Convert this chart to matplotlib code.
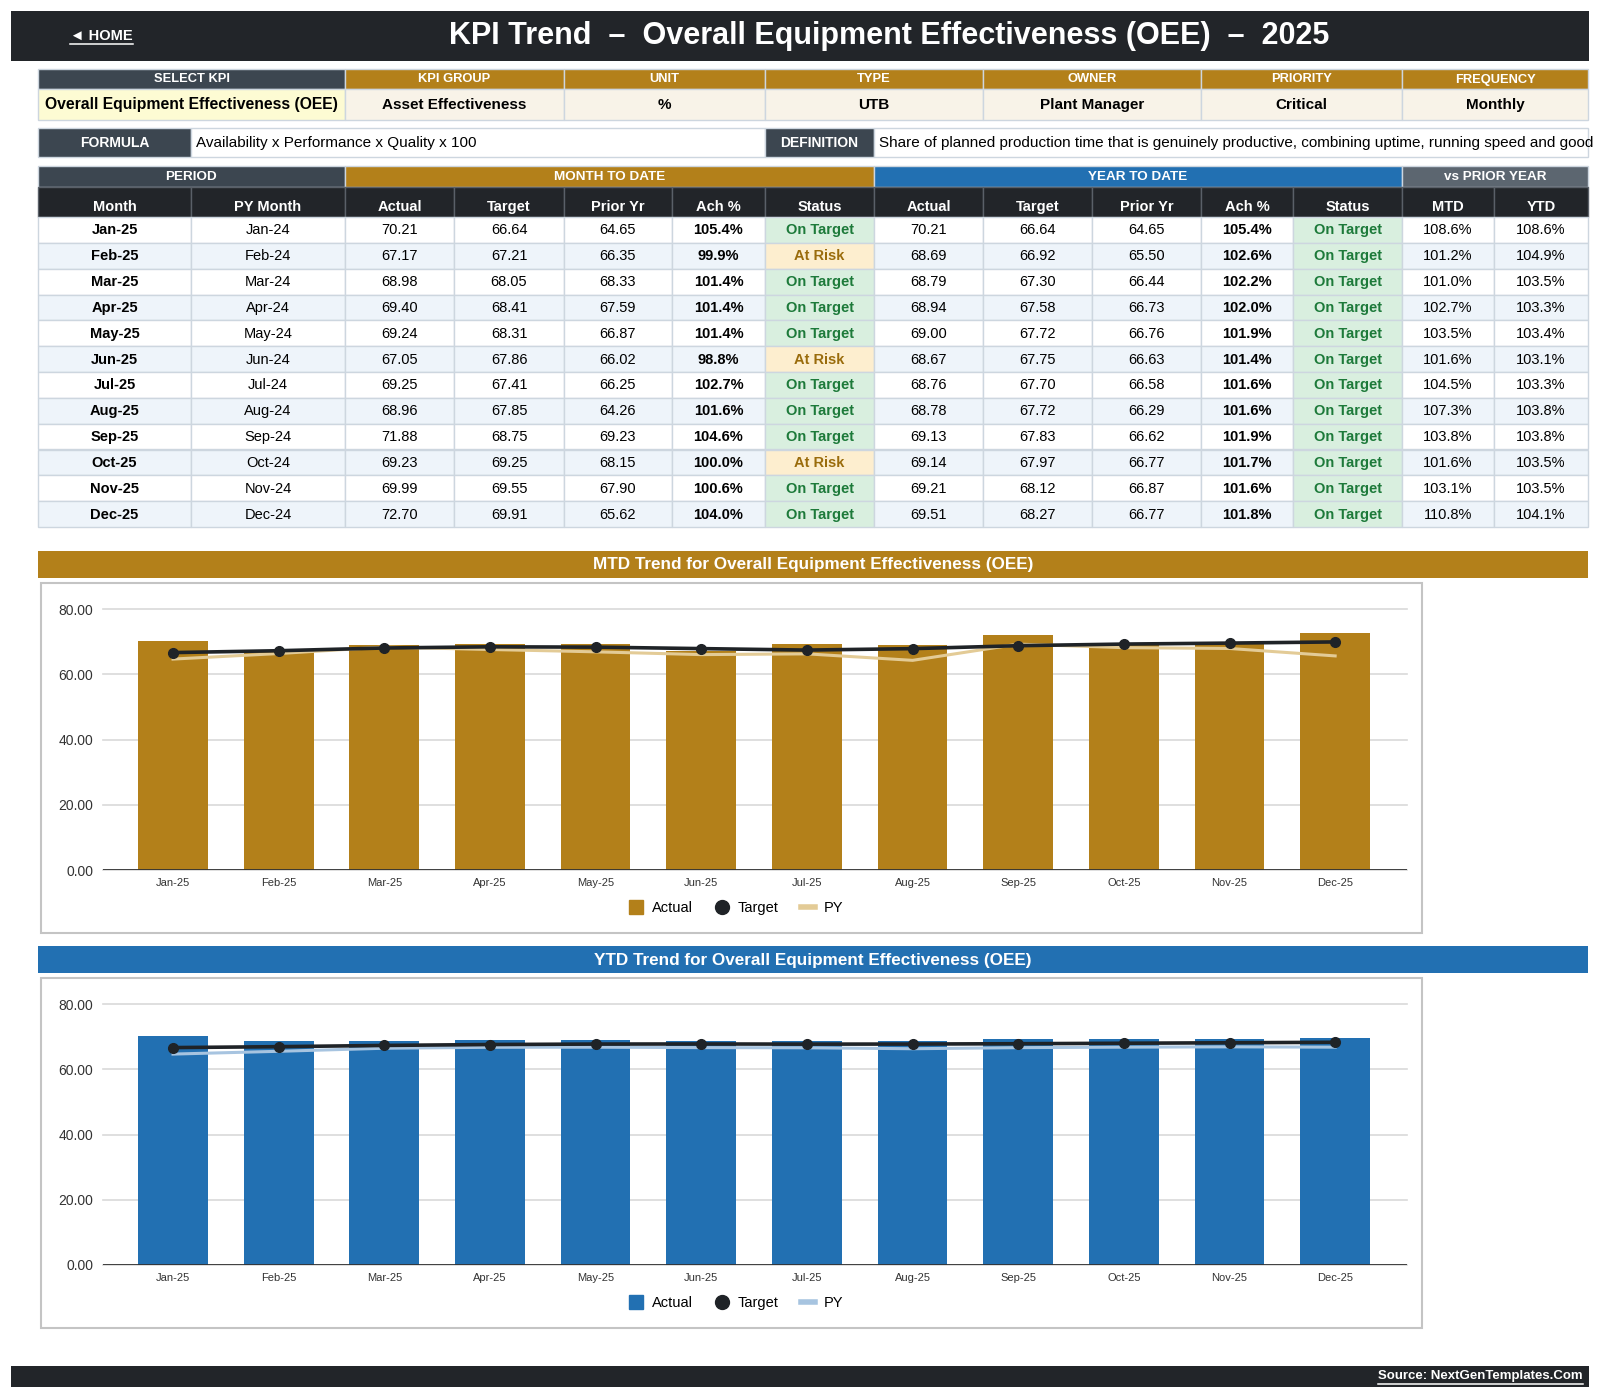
import matplotlib
matplotlib.use("Agg")
import matplotlib.pyplot as plt
from matplotlib.patches import Rectangle
from matplotlib.lines import Line2D

plt.rcParams['font.family'] = ['Liberation Sans', 'DejaVu Sans']

# ---- data read from the sheet ----
months = ['Jan-25', 'Feb-25', 'Mar-25', 'Apr-25', 'May-25', 'Jun-25',
          'Jul-25', 'Aug-25', 'Sep-25', 'Oct-25', 'Nov-25', 'Dec-25']
py_months = ['Jan-24', 'Feb-24', 'Mar-24', 'Apr-24', 'May-24', 'Jun-24',
             'Jul-24', 'Aug-24', 'Sep-24', 'Oct-24', 'Nov-24', 'Dec-24']

mtd_actual = [70.21, 67.17, 68.98, 69.40, 69.24, 67.05, 69.25, 68.96, 71.88, 69.23, 69.99, 72.70]
mtd_target = [66.64, 67.21, 68.05, 68.41, 68.31, 67.86, 67.41, 67.85, 68.75, 69.25, 69.55, 69.91]
mtd_prior = [64.65, 66.35, 68.33, 67.59, 66.87, 66.02, 66.25, 64.26, 69.23, 68.15, 67.90, 65.62]
mtd_ach = ['105.4%', '99.9%', '101.4%', '101.4%', '101.4%', '98.8%',
           '102.7%', '101.6%', '104.6%', '100.0%', '100.6%', '104.0%']
mtd_status = ['On Target', 'At Risk', 'On Target', 'On Target', 'On Target', 'At Risk',
              'On Target', 'On Target', 'On Target', 'At Risk', 'On Target', 'On Target']

ytd_actual = [70.21, 68.69, 68.79, 68.94, 69.00, 68.67, 68.76, 68.78, 69.13, 69.14, 69.21, 69.51]
ytd_target = [66.64, 66.92, 67.30, 67.58, 67.72, 67.75, 67.70, 67.72, 67.83, 67.97, 68.12, 68.27]
ytd_prior = [64.65, 65.50, 66.44, 66.73, 66.76, 66.63, 66.58, 66.29, 66.62, 66.77, 66.87, 66.77]
ytd_ach = ['105.4%', '102.6%', '102.2%', '102.0%', '101.9%', '101.4%',
           '101.6%', '101.6%', '101.9%', '101.7%', '101.6%', '101.8%']
ytd_status = ['On Target'] * 12

vs_py_mtd = ['108.6%', '101.2%', '101.0%', '102.7%', '103.5%', '101.6%',
             '104.5%', '107.3%', '103.8%', '101.6%', '103.1%', '110.8%']
vs_py_ytd = ['108.6%', '104.9%', '103.5%', '103.3%', '103.4%', '103.1%',
             '103.3%', '103.8%', '103.8%', '103.5%', '103.5%', '104.1%']

info_heads = ['SELECT KPI', 'KPI GROUP', 'UNIT', 'TYPE', 'OWNER', 'PRIORITY', 'FREQUENCY']
info_vals = ['Overall Equipment Effectiveness (OEE)', 'Asset Effectiveness', '%', 'UTB',
             'Plant Manager', 'Critical', 'Monthly']
formula = 'Availability x Performance x Quality x 100'
# the sheet cell only shows this much of the definition
definition = ('Share of planned production time that is genuinely productive, combining uptime, '
              'running speed and good')

# ---- colours ----
DARK = '#222529'
SLATE = '#3c4650'
GOLD = '#b3801a'
BLUE = '#2270b2'
GREY = '#5c6670'
EDGE = '#cdd6df'

fig = plt.figure(figsize=(16, 13.99), dpi=100)
bg = fig.add_axes([0, 0, 1, 1])
bg.set_xlim(0, 1600)
bg.set_ylim(1399, 0)
bg.axis('off')


def cell(x0, x1, y0, y1, fc, txt='', color='black', size=10.5, weight='normal',
         ha='center', ec=EDGE, dy=0.5):
    r = Rectangle((x0, y0), x1 - x0, y1 - y0, facecolor=fc, edgecolor=ec, lw=1, zorder=1)
    bg.add_patch(r)
    if txt:
        tx = (x0 + x1) / 2 if ha == 'center' else x0 + 5
        return bg.text(tx, (y0 + y1) / 2 + dy, txt, ha=ha, va='center', color=color,
                       fontsize=size, fontweight=weight, zorder=2)


def underline(t, color='white'):
    fig.canvas.draw()
    bb = t.get_window_extent()
    inv = bg.transData.inverted()
    (x0, y0), (x1, y1) = inv.transform([(bb.x0, bb.y0), (bb.x1, bb.y1)])
    bg.plot([x0, x1], [y0 + 1, y0 + 1], color=color, lw=1.1, zorder=3)


# ---- top bar ----
bg.add_patch(Rectangle((11, 11), 1578, 50, facecolor=DARK, zorder=1))
home = bg.text(70, 36, '\u25c4 HOME', color='white', fontsize=10.5, fontweight='bold',
               ha='left', va='center', zorder=2)
bg.text(889, 36, 'KPI Trend  \u2013  Overall Equipment Effectiveness (OEE)  \u2013  2025',
        color='white', fontsize=22, fontweight='bold', ha='center', va='center', zorder=2)

# ---- KPI info block ----
info_x = [38, 345, 564, 765, 983, 1201, 1402, 1588]
for i in range(7):
    hc = SLATE if i == 0 else GOLD
    cell(info_x[i], info_x[i + 1], 69, 89, hc, info_heads[i], 'white', 9.3, 'bold')
    vc = '#fdfbd3' if i == 0 else '#f8f3e8'
    vs = 11.3 if i == 0 else 11
    cell(info_x[i], info_x[i + 1], 89, 120, vc, info_vals[i], 'black', vs, 'bold')

cell(38, 191, 128, 157, SLATE, 'FORMULA', 'white', 10, 'bold')
cell(191, 765, 128, 157, 'white', formula, 'black', 11, ha='left')
cell(765, 874, 128, 157, SLATE, 'DEFINITION', 'white', 10, 'bold')
cell(874, 1588, 128, 157, 'white', definition, 'black', 11, ha='left')

# ---- main table ----
col_x = [38, 191, 345, 454, 564, 672, 765, 874, 983, 1092, 1201, 1293, 1402, 1494, 1588]
col_heads = ['Month', 'PY Month', 'Actual', 'Target', 'Prior Yr', 'Ach %', 'Status',
             'Actual', 'Target', 'Prior Yr', 'Ach %', 'Status', 'MTD', 'YTD']
groups = [('PERIOD', 0, 2, SLATE), ('MONTH TO DATE', 2, 7, GOLD),
          ('YEAR TO DATE', 7, 12, BLUE), ('vs PRIOR YEAR', 12, 14, GREY)]
for name, a, b, c in groups:
    cell(col_x[a], col_x[b], 166, 187, c, name, 'white', 9.7, 'bold')
for j, h in enumerate(col_heads):
    cell(col_x[j], col_x[j + 1], 187, 217, DARK, h, 'white', 10.5, 'bold', ec='#5a6068', dy=5)

row_h = (527 - 217) / 12
for i in range(12):
    y0 = 217 + i * row_h
    y1 = y0 + row_h
    rc = 'white' if i % 2 == 0 else '#eef4fa'
    vals = [months[i], py_months[i], f'{mtd_actual[i]:.2f}', f'{mtd_target[i]:.2f}',
            f'{mtd_prior[i]:.2f}', mtd_ach[i], mtd_status[i],
            f'{ytd_actual[i]:.2f}', f'{ytd_target[i]:.2f}', f'{ytd_prior[i]:.2f}',
            ytd_ach[i], ytd_status[i], vs_py_mtd[i], vs_py_ytd[i]]
    for j, v in enumerate(vals):
        fc, color, weight = rc, 'black', 'normal'
        if j in (0, 5, 10):
            weight = 'bold'
        if j in (6, 11):
            weight = 'bold'
            if v == 'On Target':
                fc, color = '#d9efdf', '#1d7a3a'
            else:
                fc, color = '#fdeecf', '#9a6c0c'
        cell(col_x[j], col_x[j + 1], y0, y1, fc, v, color, 10.5, weight)


# ---- charts ----
def trend_chart(top, actual, target, prior, bar_color, py_color, title):
    # banner + frame
    bg.add_patch(Rectangle((38, top), 1550, 27, facecolor=bar_color, zorder=1))
    bg.text(813, top + 14, title, color='white', fontsize=12.3, fontweight='bold',
            ha='center', va='center', zorder=2)
    bg.add_patch(Rectangle((41, top + 32), 1381, 350, facecolor='white',
                           edgecolor='#c4c4c4', lw=1.5, zorder=1))

    y80 = top + 58
    y0 = top + 319
    ax = fig.add_axes([103 / 1600, 1 - y0 / 1399, 1304 / 1600, (y0 - y80) / 1399])
    ax.patch.set_visible(False)
    x = list(range(len(months)))
    ax.bar(x, actual, width=0.66, color=bar_color, zorder=2)
    ax.plot(x, prior, color=py_color, lw=2.2, zorder=3)
    ax.plot(x, target, color='#1f2327', lw=2.6, marker='o', markersize=7, zorder=4)
    ax.axhline(0, color='#333333', lw=1.3, zorder=5)
    ax.set_xlim(-0.663, 11.68)
    ax.set_ylim(0, 80)
    ax.set_yticks([0, 20, 40, 60, 80])
    ax.set_yticklabels([f'{v:.2f}' for v in [0, 20, 40, 60, 80]])
    ax.set_xticks(x)
    ax.set_xticklabels(months)
    ax.tick_params(axis='y', length=0, pad=7, labelsize=10, labelcolor='#333333')
    ax.tick_params(axis='x', length=0, pad=6, labelsize=8, labelcolor='#333333')
    ax.yaxis.grid(True, color='#d9d9d9', lw=1.2)
    for gl in ax.yaxis.get_gridlines():
        gl.set_clip_on(False)
    ax.set_axisbelow(True)
    for s in ax.spines.values():
        s.set_visible(False)

    handles = [Line2D([], [], marker='s', ls='none', color=bar_color, markersize=10),
               Line2D([], [], marker='o', ls='none', color='#1f2327', markersize=10),
               Line2D([], [], color=py_color, lw=4)]
    fig.legend(handles, ['Actual', 'Target', 'PY'], loc='center', ncol=3, frameon=False,
               fontsize=10.5, handlelength=1.0, handletextpad=0.6, columnspacing=1.5,
               bbox_to_anchor=(736 / 1600, 1 - (top + 357) / 1399))


trend_chart(551, mtd_actual, mtd_target, mtd_prior, GOLD, '#e3cb96',
            'MTD Trend for Overall Equipment Effectiveness (OEE)')
trend_chart(946, ytd_actual, ytd_target, ytd_prior, BLUE, '#a7c4e0',
            'YTD Trend for Overall Equipment Effectiveness (OEE)')

# ---- footer ----
bg.add_patch(Rectangle((11, 1366), 1578, 21, facecolor=DARK, zorder=1))
src = bg.text(1583, 1376.5, 'Source: NextGenTemplates.Com', color='white', fontsize=9.5,
              fontweight='bold', ha='right', va='center', zorder=2)

underline(home)
underline(src)

fig.savefig('out.png', dpi=100, facecolor='white')
